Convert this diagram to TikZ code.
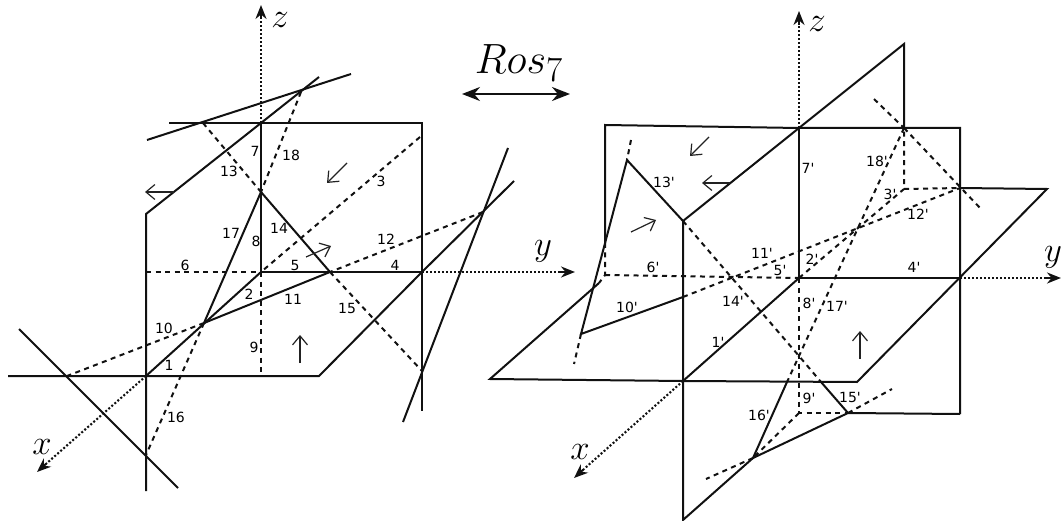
\documentclass[tikz,border=0pt]{standalone}
\usepackage{fontspec}
\newfontfamily\numfont{DejaVu Sans}
\usetikzlibrary{arrows.meta}

\begin{document}
\begin{tikzpicture}[
    x=1pt, y=-1pt,
    every node/.style={font=\numfont\fontsize{14}{16}\selectfont, inner sep=0pt},
]

% ---------------------------------------------------------------- colours
\definecolor{c1}{HTML}{111111}   % folds and axes
\definecolor{c2}{HTML}{222222}   % the small arrows

% ---------------------------------------------------------------- styles
\tikzset{
    fold/.style={c1, line width=2pt, line join=miter},
    hidden/.style={c1, line width=2pt, dash pattern=on 5pt off 4.5pt},
    axis/.style={c1, line width=2.1pt, dash pattern=on 2pt off 2pt},
    axistip/.style={c1, -{Stealth[length=14pt, width=11pt]}, line width=2pt},
    flow/.style={c2, line width=1.2pt, -{Straight Barb[length=9pt, width=15pt]}},
    axislabel/.style={font=\Huge, scale=1.4},
}

\useasboundingbox (0, 0) rectangle (1062, 521);

% ----------------------------------------------------------------------
% LEFT: the original arrangement
% ----------------------------------------------------------------------
\coordinate (o) at (261, 272);
\coordinate (ztop) at (261, 123);
\coordinate (ya) at (422, 272);
\coordinate (xa) at (146, 376);
\coordinate (p) at (261, 192);
\coordinate (q) at (204, 323);
\coordinate (r) at (330, 272);
\coordinate (s) at (301, 92);
\coordinate (t) at (483, 212);
\coordinate (u) at (67, 376);
\coordinate (v) at (146, 455);
\coordinate (w) at (422, 371);
\coordinate (m) at (203, 123);

% axes
\draw[axis] (ztop) -- (261, 20);
\draw[axistip] (261, 19) -- (261, 5);
\draw[axis] (ya) -- (560, 272);
\draw[axistip] (560, 272) -- (575, 272);
\draw[axis] (xa) -- (47, 463);
\draw[axistip] (47, 463) -- (37, 472);
\node[axislabel] (zlabel) at (280, 20) {$z$};
\node[axislabel] (ylabel) at (543, 251) {$y$};
\node[axislabel] (xlabel) at (42, 447) {$x$};

% the planes
\draw[fold] (169, 123) -- (422, 123) -- (422, 411);
\draw[fold] (319, 77) -- (ztop) -- (146, 214) -- (146, 491);
\draw[fold] (ztop) -- (o) -- (ya);
\draw[fold] (8, 376) -- (319, 376) -- (ya) -- (514, 181);
\draw[fold] (xa) -- (o);
\draw[hidden] (146, 272) -- (o);
\draw[hidden] (o) -- (261, 376);

% the loose lines
\draw[fold] (147, 140) -- (351, 74);
\draw[fold] (508, 148) -- (403, 422);
\draw[fold] (19, 329) -- (178, 488);

% the folded triangle
\draw[fold] (p) -- (q) -- (r) -- cycle;
\draw[hidden] (m) -- (p);
\draw[hidden] (s) -- (p);
\draw[hidden] (420, 137) -- (o);
\draw[hidden] (t) -- (r);
\draw[hidden] (r) -- (w);
\draw[hidden] (q) -- (u);
\draw[hidden] (q) -- (v);

% the small arrows
\draw[flow] (174, 192) -- (145, 192);
\draw[flow] (347, 163) -- (327, 183);
\draw[flow] (306, 257) -- (331, 246);
\draw[flow] (300, 363) -- (300, 335);

\foreach \n/\px/\py in {1/169/365, 2/249/294, 3/381/181, 4/395/265, 5/295/265,
    6/185/265, 7/255/151, 8/256/241, 9/254/347, 10/164/328, 11/293/299,
    12/386/239, 13/229/171, 14/279/228, 15/347/308, 16/176/417, 17/231/233,
    18/291/155}
    \node (n\n) at (\px, \py) {\n};

% ----------------------------------------------------------------------
% MIDDLE: the map between both
% ----------------------------------------------------------------------
\node[font=\Huge, scale=1.7] (ros) at (519, 63) {$Ros_7$};
\coordinate (rosa) at (462, 94);
\coordinate (rosb) at (570, 94);
\draw[axistip, {Stealth[length=18pt, width=14pt]}-{Stealth[length=18pt, width=14pt]}]
    (rosa) -- (rosb);

% ----------------------------------------------------------------------
% RIGHT: the image under the map
% ----------------------------------------------------------------------
\coordinate (oo) at (799, 278);
\coordinate (zz) at (799, 128);
\coordinate (yy) at (960, 278);
\coordinate (xx) at (683, 381);
\coordinate (aa) at (627, 160);
\coordinate (bb) at (683, 221);
\coordinate (cc) at (581, 334);
\coordinate (dd) at (683, 297);
\coordinate (ee) at (904, 128);
\coordinate (ff) at (904, 189);
\coordinate (gg) at (960, 188);
\coordinate (hh) at (799, 356);
\coordinate (ii) at (605, 275);
\coordinate (jj) at (799, 413);
\coordinate (kk) at (848, 413);
\coordinate (ll) at (753, 458);
\coordinate (mm) at (821, 382);
\coordinate (nn) at (787, 382);

% axes
\draw[axis] (zz) -- (799, 26);
\draw[axistip] (799, 25) -- (799, 11);
\draw[axis] (yy) -- (1046, 278);
\draw[axistip] (1046, 278) -- (1061, 278);
\draw[axis] (xx) -- (584, 469);
\draw[axistip] (584, 469) -- (574, 478);
\node[axislabel] (zzlabel) at (817, 24) {$z$};
\node[axislabel] (yylabel) at (1053, 257) {$y$};
\node[axislabel] (xxlabel) at (580, 452) {$x$};

% the planes
\draw[fold] (605, 243) -- (605, 125) -- (zz) -- (960, 128) -- (960, 414);
\draw[fold] (904, 128) -- (904, 44) -- (zz) -- (bb) -- (683, 520) -- (ll);
\draw[fold] (zz) -- (oo) -- (yy);
\draw[fold] (xx) -- (oo);
\draw[fold] (gg) -- (1047, 189) -- (857, 382) -- (xx) -- (490, 379) -- (599, 283);
\draw[fold] (kk) -- (960, 414);

% the folded triangles
\draw[fold] (bb) -- (aa) -- (cc) -- (dd);
\draw[fold] (nn) -- (ll) -- (kk) -- (mm);
\draw[hidden] (ii) -- (oo);
\draw[hidden] (605, 243) -- (ii) -- (599, 283);
\draw[hidden] (oo) -- (jj) -- (kk);
\draw[hidden] (jj) -- (ll);
\draw[hidden] (oo) -- (ff) -- (ee);
\draw[hidden] (ff) -- (gg);
\draw[hidden] (dd) -- (gg);
\draw[hidden] (ee) -- (hh) -- (nn);
\draw[hidden] (bb) -- (hh) -- (mm);
\draw[hidden] (874, 99) -- (ee);
\draw[hidden] (ee) -- (981, 209);
\draw[hidden] (631, 140) -- (aa);
\draw[hidden] (cc) -- (574, 364);
\draw[hidden] (kk) -- (892, 389);
\draw[hidden] (ll) -- (706, 479);

% the small arrows
\draw[flow] (709, 137) -- (690, 156);
\draw[flow] (730, 183) -- (702, 183);
\draw[flow] (631, 232) -- (656, 220);
\draw[flow] (860, 359) -- (860, 331);

\foreach \n/\px/\py in {1/718/342, 2/812/259, 3/890/194, 4/914/267, 5/780/270,
    6/653/267, 7/808/168, 8/809/303, 9/809/398, 10/627/307, 11/762/253,
    12/918/214, 13/664/182, 14/733/301, 15/850/397, 16/759/415, 17/837/306,
    18/877/161}
    \node (nn\n) at (\px, \py) {\n'};

\end{tikzpicture}
\end{document}
